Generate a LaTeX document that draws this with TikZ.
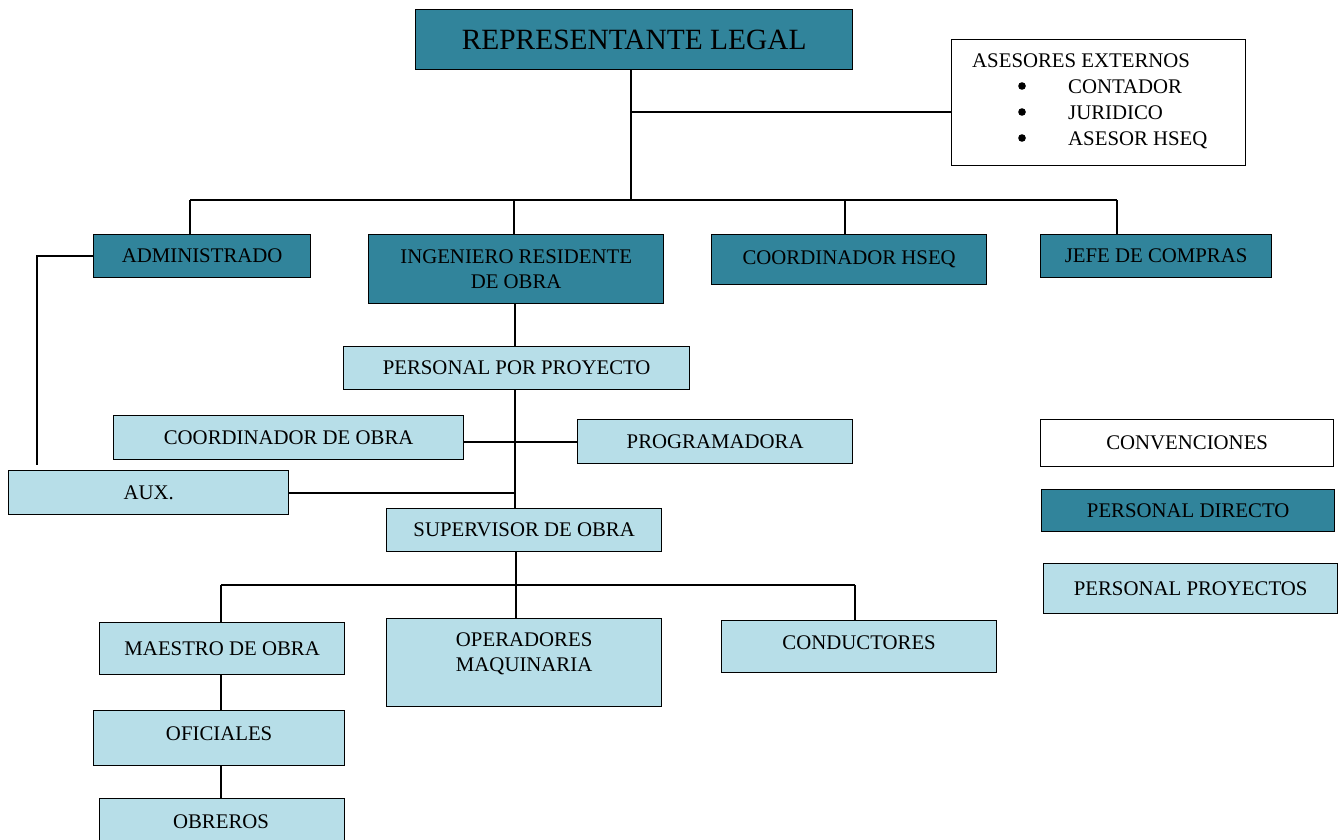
\documentclass[tikz,border=0pt]{standalone}
\usepackage{fontspec}
\setmainfont{Liberation Serif}
\usetikzlibrary{calc}
\definecolor{darkteal}{RGB}{49,132,155}
\definecolor{lightteal}{RGB}{183,222,232}
\newcommand{\fsn}{\fontsize{20.8}{25}\selectfont}
\newcommand{\fst}{\fontsize{29.4}{34}\selectfont}
\begin{document}
\begin{tikzpicture}[x=1pt,y=-1pt,
  boxbase/.style={draw=black, line width=1.3pt, anchor=north west, inner sep=0pt, align=center, font=\fsn},
  dark/.style={boxbase, fill=darkteal},
  light/.style={boxbase, fill=lightteal},
  plain/.style={boxbase, fill=white},
  conn/.style={line width=1.8pt, black},
  txt/.style={inner sep=0pt, font=\fsn, align=center},
  bullet/.style={fill=black}]
\useasboundingbox (0,0) rectangle (1339,840);

% top
\node[dark, minimum width=437pt, minimum height=60pt, font=\fst] (rep) at (415,9) {REPRESENTANTE LEGAL};
\node[plain, minimum width=294pt, minimum height=126pt] (ase) at (951,39) {};
\node[anchor=north west, inner sep=0pt, align=left, font=\fontsize{20.8}{26}\selectfont] (asetxt) at (972,54)
  {ASESORES EXTERNOS\\
   \hspace*{96pt}CONTADOR\\
   \hspace*{96pt}JURIDICO\\
   \hspace*{96pt}ASESOR HSEQ};
\fill[bullet] (1022,86) circle (3.8pt);
\fill[bullet] (1022,112) circle (3.8pt);
\fill[bullet] (1022,138) circle (3.8pt);

% second level
\node[dark, minimum width=217pt, minimum height=43pt] (adm) at (93,234) {ADMINISTRADO};
\node[dark, minimum width=295pt, minimum height=69pt] (ing) at (368,234) {INGENIERO RESIDENTE\\DE OBRA};
\node[dark, minimum width=275pt, minimum height=50pt] (hseq) at (711,234) {COORDINADOR HSEQ};
\node[dark, minimum width=231pt, minimum height=43pt] (jefe) at (1040,234) {JEFE DE COMPRAS};

% project staff
\node[light, minimum width=346pt, minimum height=43pt] (ppp) at (343,346) {PERSONAL POR PROYECTO};
\node[light, minimum width=350pt, minimum height=44pt] (cob) at (113,415) {COORDINADOR DE OBRA};
\node[light, minimum width=275pt, minimum height=44pt] (prog) at (577,419) {PROGRAMADORA};
\node[light, minimum width=280pt, minimum height=44pt] (aux) at (8,470) {AUX.};
\node[light, minimum width=275pt, minimum height=43pt] (sup) at (386,508) {SUPERVISOR DE OBRA};

% bottom level
\node[light, minimum width=245pt, minimum height=52pt] (mae) at (99,622) {MAESTRO DE OBRA};
\node[light, minimum width=275pt, minimum height=88pt] (ope) at (386,618) {};
\node[txt, anchor=north] (opetxt) at ($(ope.north)+(0,15)$) {OPERADORES\\MAQUINARIA};
\node[light, minimum width=275pt, minimum height=52pt] (cond) at (721,620) {};
\node[txt, anchor=center] (condtxt) at ($(cond.center)+(0,-4)$) {CONDUCTORES};
\node[light, minimum width=251pt, minimum height=55pt] (ofi) at (93,710) {};
\node[txt] (ofitxt) at ($(ofi.center)+(0,-4)$) {OFICIALES};
\node[light, minimum width=245pt, minimum height=50pt] (obr) at (99,798) {};
\node[txt] (obrtxt) at (221,822) {OBREROS};

% legend
\node[plain, minimum width=293pt, minimum height=47pt] (conv) at (1040,419) {CONVENCIONES};
\node[dark, minimum width=293pt, minimum height=42pt] (pdir) at (1041,489) {PERSONAL DIRECTO};
\node[light, minimum width=294pt, minimum height=50pt] (pproy) at (1043,563) {PERSONAL PROYECTOS};

% coordinates
\coordinate (bus) at (631,200);
\coordinate (asej) at (631,112);
\coordinate (busl) at (190,200);
\coordinate (busr) at (1117,200);
\coordinate (d2) at (514,200);
\coordinate (d3) at (845,200);
\coordinate (al) at (37,465);
\coordinate (spine) at (515,0);
\coordinate (lbus) at (516,585);
\coordinate (lbl) at (221,585);
\coordinate (lbr) at (855,585);

% connectors
\draw[conn] (rep.south -| bus) -- (bus);
\draw[conn] (asej) -- (asej -| ase.west);
\draw[conn] (busl) -- (busr);
\draw[conn] (busl) -- (busl |- adm.north);
\draw[conn] (d2) -- (d2 |- ing.north);
\draw[conn] (d3) -- (d3 |- hseq.north);
\draw[conn] (busr) -- (busr |- jefe.north);
\draw[conn] (adm.west) -- (adm.west -| al) -- (al);
\draw[conn] (ing.south -| spine) -- (ppp.north -| spine);
\draw[conn] (ppp.south -| spine) -- (sup.north -| spine);
\draw[conn] (cob.east |- prog.west) -- (prog.west);
\draw[conn] (aux.east) -- (aux.east -| spine);
\draw[conn] (sup.south -| lbus) -- (lbus);
\draw[conn] (lbl) -- (lbr);
\draw[conn] (lbl) -- (lbl |- mae.north);
\draw[conn] (lbus) -- (lbus |- ope.north);
\draw[conn] (lbr) -- (lbr |- cond.north);
\draw[conn] (mae.south -| lbl) -- (ofi.north -| lbl);
\draw[conn] (ofi.south -| lbl) -- (obr.north -| lbl);
\end{tikzpicture}
\end{document}
